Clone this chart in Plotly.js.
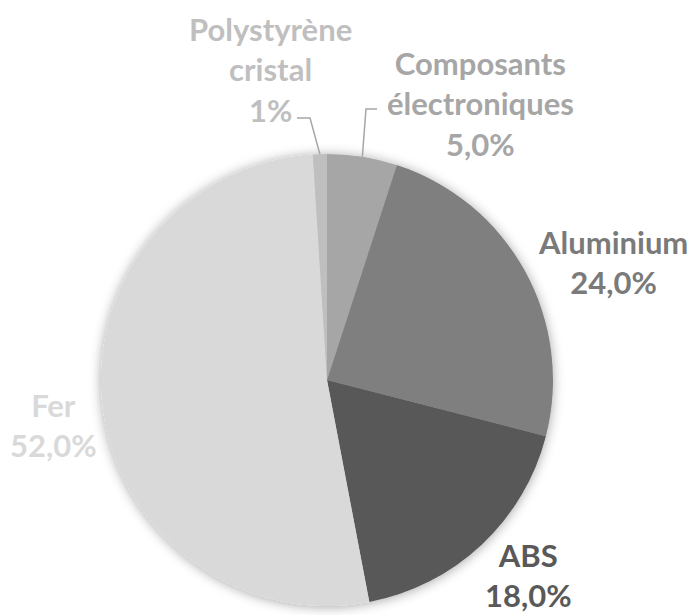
<!DOCTYPE html>
<html>
<head>
<meta charset="utf-8">
<script src="https://cdn.plot.ly/plotly-3.0.1.min.js"></script>
<style>
  html, body { margin: 0; padding: 0; background: #ffffff; }
  #chart { width: 693px; height: 615px; }
</style>
</head>
<body>
<div id="chart"></div>
<script>
// ---- data ----
const categories = ["Composants<br>électroniques", "Aluminium", "ABS", "Fer", "Polystyrène<br>cristal"];
const values = [5, 24, 18, 52, 1];
const pctLabels = ["5,0%", "24,0%", "18,0%", "52,0%", "1%"];
const sliceColors = ["#a6a6a6", "#7f7f7f", "#595959", "#d9d9d9", "#bfbfbf"];
const labelColors = ["#a6a6a6", "#7a7a7a", "#595959", "#d9d9d9", "#bfbfbf"];

// ---- layout geometry (pixels) ----
const W = 693, H = 615;
const cx = 327, cy = 380, R = 226;
// label centres in pixels
const labelPos = [[480, 104], [613, 262], [528, 575], [53, 425], [270, 70]];
// leader-line horizontal start (label side) for small slices
const leaders = { 0: [[377, 109], [366, 109]], 4: [[297, 118], [310, 118]] };

const px = x => x / W;
const py = y => (H - y) / H;

const total = values.reduce((a, b) => a + b, 0);
let cum = 0;
const midAngles = values.map(v => { const m = (cum + v / 2) / total * 2 * Math.PI; cum += v; return m; });

const annotations = categories.map((c, i) => ({
  text: c + "<br>" + pctLabels[i],
  x: px(labelPos[i][0]), y: py(labelPos[i][1]),
  xref: "paper", yref: "paper", xanchor: "center", yanchor: "middle",
  showarrow: false, align: "center",
  font: { family: "Lato, 'Open Sans', sans-serif", size: 31, weight: "bold", color: labelColors[i] }
}));

const shapes = Object.keys(leaders).map(k => {
  const i = +k;
  const a = midAngles[i];
  const ex = cx + R * Math.sin(a), ey = cy - R * Math.cos(a);
  const p = leaders[k];
  return {
    type: "path", xref: "paper", yref: "paper",
    path: `M ${px(p[0][0])} ${py(p[0][1])} L ${px(p[1][0])} ${py(p[1][1])} L ${px(ex)} ${py(ey)}`,
    line: { color: "#a6a6a6", width: 1.5 }
  };
});

const trace = {
  type: "pie",
  labels: categories,
  values: values,
  sort: false,
  direction: "clockwise",
  rotation: 0,
  textinfo: "none",
  hoverinfo: "label+percent",
  marker: { colors: sliceColors, line: { width: 0 } },
  domain: { x: [px(cx - R), px(cx + R)], y: [py(cy + R), py(cy - R)] },
  showlegend: false
};

const layout = {
  width: W, height: H,
  margin: { l: 0, r: 0, t: 0, b: 0 },
  paper_bgcolor: "#ffffff",
  plot_bgcolor: "#ffffff",
  showlegend: false,
  annotations: annotations,
  shapes: shapes
};

Plotly.newPlot("chart", [trace], layout, { displayModeBar: false, staticPlot: true }).then(gd => {
  const svg = gd.querySelector("svg.main-svg");
  const ns = "http://www.w3.org/2000/svg";
  let defs = svg.querySelector("defs");
  if (!defs) { defs = document.createElementNS(ns, "defs"); svg.insertBefore(defs, svg.firstChild); }
  const f = document.createElementNS(ns, "filter");
  f.setAttribute("id", "pieShadow");
  f.setAttribute("x", "-20%"); f.setAttribute("y", "-20%");
  f.setAttribute("width", "140%"); f.setAttribute("height", "140%");
  const ds = document.createElementNS(ns, "feDropShadow");
  ds.setAttribute("dx", "0"); ds.setAttribute("dy", "1");
  ds.setAttribute("stdDeviation", "6");
  ds.setAttribute("flood-color", "#000000");
  ds.setAttribute("flood-opacity", "0.35");
  f.appendChild(ds);
  defs.appendChild(f);
  gd.querySelectorAll(".pielayer .trace").forEach(t => t.setAttribute("filter", "url(#pieShadow)"));
});
</script>
</body>
</html>
